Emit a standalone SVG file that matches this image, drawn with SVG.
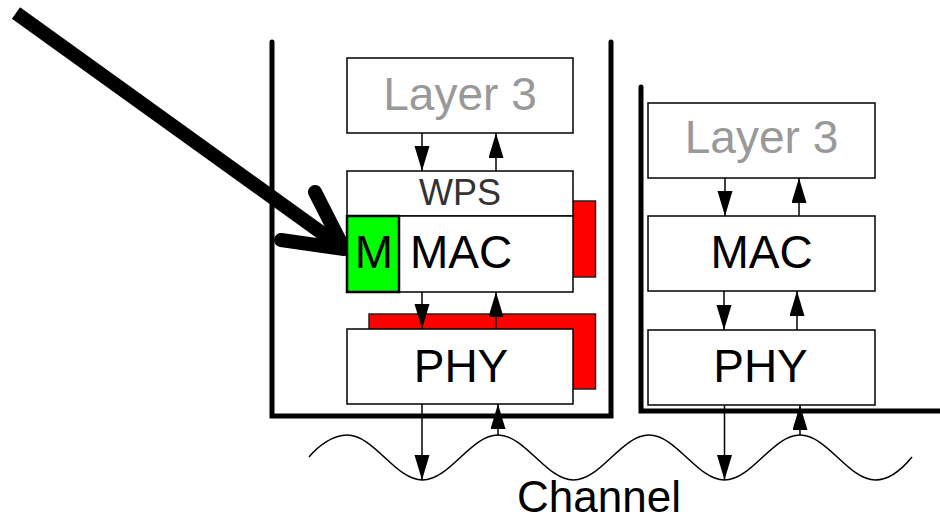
<svg xmlns="http://www.w3.org/2000/svg" width="940" height="521" viewBox="0 0 940 521">
<style>
.box{fill:#fff;stroke:#000;stroke-width:1.5}
.red{fill:#ff0000;stroke:#222;stroke-width:1.5}
.wall{fill:none;stroke:#000;stroke-width:5;stroke-linecap:round;stroke-linejoin:miter}
.lbl{font-family:"Liberation Sans",Arial,sans-serif;font-size:46px;text-anchor:middle;fill:#000}
.grey{fill:#999999}
.conn{stroke:#000;stroke-width:1.5;fill:none}
</style>
<defs>
<marker id="ah" markerUnits="userSpaceOnUse" markerWidth="26" markerHeight="16" refX="25" refY="7.5" orient="auto">
<path d="M0,0 L25,7.5 L0,15 z" fill="#000"/>
</marker>
</defs>
<g id="containers">
<path class="wall" d="M272,42 V416 H611 V42"/>
<path class="wall" d="M641,87 V411 H942"/>
</g>
<g id="pointer">
<line x1="16" y1="13" x2="340" y2="246" stroke="#000" stroke-width="14" stroke-linecap="butt"/>
<polyline points="315,192 344,249 281,240" fill="none" stroke="#000" stroke-width="14" stroke-linecap="round" stroke-linejoin="round"/>
</g>
<g id="shadows">
<rect class="red" x="369" y="201" width="226.5" height="76"/>
<rect class="red" x="369" y="314" width="226.5" height="75"/>
</g>
<g id="left-layer3">
<rect class="box" x="347" y="58" width="226" height="75"/>
<text class="lbl grey" x="460" y="110">Layer 3</text>
</g>
<g id="left-wps">
<rect class="box" x="347" y="171" width="226" height="45"/>
<text class="lbl" x="460" y="205" style="font-size:36px;fill:#333">WPS</text>
</g>
<g id="left-mac">
<rect class="box" x="347" y="216" width="226" height="76"/>
<text class="lbl" x="461" y="268">MAC</text>
</g>
<g id="left-m">
<rect x="347" y="216" width="52" height="76" fill="#00ff00" stroke="#000" stroke-width="2.5"/>
<text class="lbl" x="374" y="268">M</text>
</g>
<g id="left-phy">
<rect class="box" x="347" y="329" width="226" height="75"/>
<text class="lbl" x="461" y="382">PHY</text>
</g>
<g id="right-layer3">
<rect class="box" x="648" y="103" width="227" height="75"/>
<text class="lbl grey" x="761.5" y="153">Layer 3</text>
</g>
<g id="right-mac">
<rect class="box" x="648" y="216" width="227" height="75"/>
<text class="lbl" x="761.5" y="268">MAC</text>
</g>
<g id="right-phy">
<rect class="box" x="648" y="330" width="227" height="75"/>
<text class="lbl" x="760.5" y="382">PHY</text>
</g>
<g id="channel">
<path class="conn" d="M309,457 C318,446 333,435 347,435 C374.4,435 395.1,480 422.5,480 C449.9,480 470.6,435 498,435 C525.4,435 546.1,480 573.5,480 C600.9,480 621.6,435 649,435 C676.4,435 697.1,480 724.5,480 C751.9,480 772.6,435 800,435 C827.4,435 848.1,480 875.5,480 C889.5,480 903,468 912,457"/>
<text class="lbl" x="599" y="512" style="font-size:44px">Channel</text>
</g>
<g id="connectors">
<line class="conn" x1="422" y1="133" x2="422" y2="171" marker-end="url(#ah)"/>
<line class="conn" x1="496" y1="171" x2="496" y2="133" marker-end="url(#ah)"/>
<line class="conn" x1="422" y1="292" x2="422" y2="329" marker-end="url(#ah)"/>
<line class="conn" x1="496" y1="329" x2="496" y2="292" marker-end="url(#ah)"/>
<line class="conn" x1="422" y1="404" x2="422" y2="480" marker-end="url(#ah)"/>
<line class="conn" x1="498" y1="435" x2="498" y2="404" marker-end="url(#ah)"/>
<line class="conn" x1="725" y1="178" x2="725" y2="216" marker-end="url(#ah)"/>
<line class="conn" x1="799" y1="216" x2="799" y2="178" marker-end="url(#ah)"/>
<line class="conn" x1="724" y1="291" x2="724" y2="330" marker-end="url(#ah)"/>
<line class="conn" x1="797" y1="330" x2="797" y2="291" marker-end="url(#ah)"/>
<line class="conn" x1="724.5" y1="405" x2="724.5" y2="480" marker-end="url(#ah)"/>
<line class="conn" x1="800" y1="435" x2="800" y2="405" marker-end="url(#ah)"/>
</g>
</svg>
